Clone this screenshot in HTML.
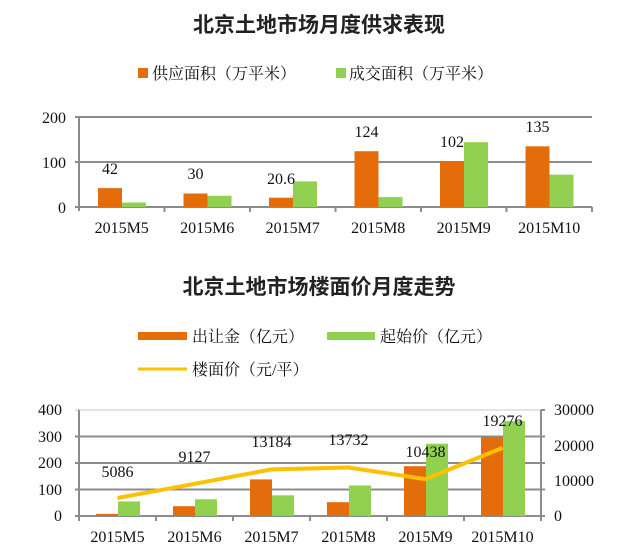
<!DOCTYPE html>
<html><head><meta charset="utf-8"><style>
html,body{margin:0;padding:0;background:#fff;}
svg{display:block;}
.t{font-family:"Liberation Sans","Noto Sans CJK SC",sans-serif;font-weight:bold;font-size:21px;fill:#222;}
.l{font-family:"Liberation Serif","Noto Serif CJK SC","Noto Sans CJK SC",serif;font-size:16px;fill:#111;}
.n{font-family:"Liberation Serif",serif;font-size:16px;fill:#111;}
</style></head><body>
<svg width="640" height="559" viewBox="0 0 640 559" xmlns="http://www.w3.org/2000/svg">
<rect width="640" height="559" fill="#fff"/>
<text class="t" x="319" y="32" text-anchor="middle">北京土地市场月度供求表现</text>
<rect x="138" y="68" width="10" height="10" fill="#E46C0A"/>
<text class="l" x="152" y="79">供应面积（万平米）</text>
<rect x="336" y="68" width="10" height="10" fill="#92D050"/>
<text class="l" x="349" y="79">成交面积（万平米）</text>

<!-- top chart -->
<g stroke="#8c8c8c" stroke-width="2">
<line x1="75" y1="117" x2="592" y2="117"/>
<line x1="75" y1="162" x2="592" y2="162"/>
<line x1="75" y1="207" x2="592" y2="207"/>
<line x1="79" y1="117" x2="79" y2="211"/>
<line x1="164.5" y1="207" x2="164.5" y2="212"/>
<line x1="250" y1="207" x2="250" y2="212"/>
<line x1="335.5" y1="207" x2="335.5" y2="212"/>
<line x1="421" y1="207" x2="421" y2="212"/>
<line x1="506.5" y1="207" x2="506.5" y2="212"/>
<line x1="592" y1="207" x2="592" y2="212"/>
</g>
<g class="n" text-anchor="end">
<text x="66" y="123">200</text><text x="66" y="168">100</text><text x="66" y="213">0</text>
</g>
<g fill="#E46C0A">
<rect x="98" y="188.1" width="24" height="18.9"/>
<rect x="183.5" y="193.5" width="24" height="13.5"/>
<rect x="269" y="197.7" width="24" height="9.3"/>
<rect x="354.5" y="151.2" width="24" height="55.8"/>
<rect x="440" y="161.1" width="24" height="45.9"/>
<rect x="525.5" y="146.3" width="24" height="60.7"/>
</g>
<g fill="#92D050">
<rect x="122" y="202.5" width="24" height="4.5"/>
<rect x="207.5" y="195.8" width="24" height="11.2"/>
<rect x="293" y="181.4" width="24" height="25.6"/>
<rect x="378.5" y="197.1" width="24" height="9.9"/>
<rect x="464" y="142.2" width="24" height="64.8"/>
<rect x="549.5" y="174.6" width="24" height="32.4"/>
</g>
<g class="n" text-anchor="middle">
<text x="110" y="174">42</text><text x="195.5" y="179">30</text><text x="281" y="184">20.6</text>
<text x="366.5" y="137">124</text><text x="452" y="147">102</text><text x="537.5" y="132">135</text>
<text x="121.7" y="233">2015M5</text><text x="207.2" y="233">2015M6</text><text x="292.7" y="233">2015M7</text>
<text x="378.2" y="233">2015M8</text><text x="463.7" y="233">2015M9</text><text x="549.2" y="233">2015M10</text>
</g>

<!-- bottom -->
<text class="t" x="319" y="294" text-anchor="middle">北京土地市场楼面价月度走势</text>
<rect x="138" y="332" width="49" height="8" fill="#E46C0A"/>
<text class="l" x="192" y="342">出让金（亿元）</text>
<rect x="327" y="332" width="48" height="8" fill="#92D050"/>
<text class="l" x="380" y="342">起始价（亿元）</text>
<line x1="138" y1="369" x2="187" y2="369" stroke="#FFC000" stroke-width="3"/>
<text class="l" x="192" y="375">楼面价（元/平）</text>

<g stroke="#8c8c8c" stroke-width="2">
<line x1="75" y1="410" x2="541" y2="410" stroke="#b8cce4" stroke-width="1"/>
<line x1="75" y1="436.5" x2="545" y2="436.5"/>
<line x1="75" y1="463" x2="545" y2="463"/>
<line x1="75" y1="489.5" x2="545" y2="489.5"/>
<line x1="75" y1="516" x2="545" y2="516"/>
<line x1="79" y1="410" x2="79" y2="521"/>
<line x1="541" y1="410" x2="541" y2="521"/>
<line x1="541" y1="410" x2="545" y2="410"/>
<line x1="156" y1="516" x2="156" y2="521"/>
<line x1="233" y1="516" x2="233" y2="521"/>
<line x1="310" y1="516" x2="310" y2="521"/>
<line x1="387" y1="516" x2="387" y2="521"/>
<line x1="464" y1="516" x2="464" y2="521"/>
</g>
<g class="n" text-anchor="end">
<text x="62" y="415">400</text><text x="62" y="442">300</text><text x="62" y="468">200</text><text x="62" y="495">100</text><text x="62" y="521">0</text>
</g>
<g class="n">
<text x="554" y="415">30000</text><text x="554" y="451">20000</text><text x="554" y="486">10000</text><text x="554" y="521">0</text>
</g>
<g fill="#E46C0A">
<rect x="96" y="513.9" width="22" height="2.1"/>
<rect x="173" y="506.2" width="22" height="9.8"/>
<rect x="250" y="479.4" width="22" height="36.6"/>
<rect x="327" y="502.2" width="22" height="13.8"/>
<rect x="404" y="466.2" width="22" height="49.8"/>
<rect x="481" y="437" width="22" height="79"/>
</g>
<g fill="#92D050">
<rect x="118" y="501.4" width="22" height="14.6"/>
<rect x="195" y="499.3" width="22" height="16.7"/>
<rect x="272" y="495.3" width="22" height="20.7"/>
<rect x="349" y="485.5" width="22" height="30.5"/>
<rect x="426" y="443.7" width="22" height="72.3"/>
<rect x="503" y="421.1" width="22" height="94.9"/>
</g>
<polyline points="117.5,498 194.5,483.8 271.5,469.4 348.5,467.5 425.5,479.1 502.5,447.9" fill="none" stroke="#FFC000" stroke-width="4" stroke-linejoin="round"/>
<g class="n" text-anchor="middle">
<text x="117.5" y="477">5086</text><text x="194.5" y="462">9127</text><text x="271.5" y="447">13184</text>
<text x="348.5" y="445">13732</text><text x="425.5" y="457">10438</text><text x="502.5" y="426">19276</text>
<text x="117.5" y="542">2015M5</text><text x="194.5" y="542">2015M6</text><text x="271.5" y="542">2015M7</text>
<text x="348.5" y="542">2015M8</text><text x="425.5" y="542">2015M9</text><text x="502.5" y="542">2015M10</text>
</g>
</svg>
</body></html>
